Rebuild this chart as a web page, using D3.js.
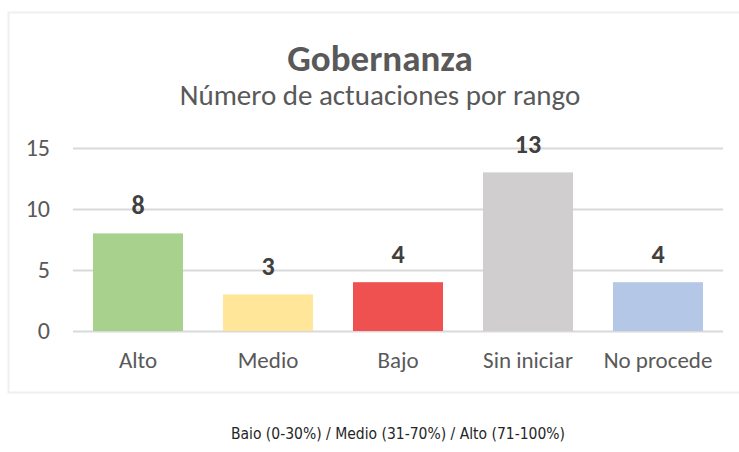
<!DOCTYPE html>
<html><head><meta charset="utf-8">
<script src="https://cdn.jsdelivr.net/npm/d3@7"></script>
<style>body{margin:0;background:#fff}svg{display:block}</style>
</head><body>
<script>
const categories = ["Alto", "Medio", "Bajo", "Sin iniciar", "No procede"];
const values = [8, 3, 4, 13, 4];
const colors = ["#A9D18E", "#FFE699", "#EF5050", "#D0CECE", "#B4C7E7"];
const yTicks = [0, 5, 10, 15];
const title = "Gobernanza";
const subtitle = "Número de actuaciones por rango";
const footnote = "Baio (0-30%) / Medio (31-70%) / Alto (71-100%)";

const W = 739, H = 452;
const svg = d3.select("body").append("svg").attr("width", W).attr("height", H);
const font = "Carlito, Lato, 'Open Sans', sans-serif";

svg.append("rect").attr("x", 8.5).attr("y", 12.5).attr("width", 740).attr("height", 380)
  .attr("fill", "#fff").attr("stroke", "#EFEFEF").attr("stroke-width", 2);

const x = d3.scaleBand().domain(categories).range([73, 723]).paddingInner(40/130).paddingOuter(20/130);
const y = d3.scaleLinear().domain([0, 15]).range([331, 148]);

const yAxis = svg.append("g").attr("transform", "translate(73,0)")
  .call(d3.axisLeft(y).tickValues(yTicks).tickSize(-650).tickPadding(23));
yAxis.select(".domain").remove();
yAxis.selectAll("line").attr("stroke", "#D9D9D9").attr("stroke-width", 2);
yAxis.selectAll("text").attr("fill", "#595959").style("font-family", font).style("font-size", "24px");

svg.selectAll("rect.bar").data(values).join("rect").attr("class", "bar")
  .attr("x", (d, i) => x(categories[i])).attr("width", x.bandwidth())
  .attr("y", d => y(d)).attr("height", d => y(0) - y(d))
  .attr("fill", (d, i) => colors[i]);

svg.selectAll("text.val").data(values).join("text").attr("class", "val")
  .attr("x", (d, i) => x(categories[i]) + x.bandwidth() / 2)
  .attr("y", d => y(d) - 19)
  .attr("text-anchor", "middle").attr("fill", "#404040")
  .style("font-family", font).style("font-size", "26px").style("font-weight", "bold")
  .text(d => d);

const xAxis = svg.append("g").attr("transform", "translate(0,331)")
  .call(d3.axisBottom(x).tickSize(0).tickPadding(21));
xAxis.select(".domain").remove();
xAxis.selectAll("text").attr("fill", "#595959").style("font-family", font).style("font-size", "23px");

svg.append("text").attr("x", 380).attr("y", 71).attr("text-anchor", "middle")
  .attr("fill", "#595959").style("font-family", font).style("font-size", "37px").style("font-weight", "bold")
  .text(title);
svg.append("text").attr("x", 380).attr("y", 105).attr("text-anchor", "middle")
  .attr("fill", "#595959").style("font-family", font).style("font-size", "29px")
  .text(subtitle);

svg.append("text").attr("x", 398).attr("y", 439).attr("text-anchor", "middle")
  .attr("fill", "#262626").style("font-family", "'DejaVu Sans Condensed', Roboto, sans-serif").style("font-size", "15.5px")
  .text(footnote);
</script>
</body></html>
